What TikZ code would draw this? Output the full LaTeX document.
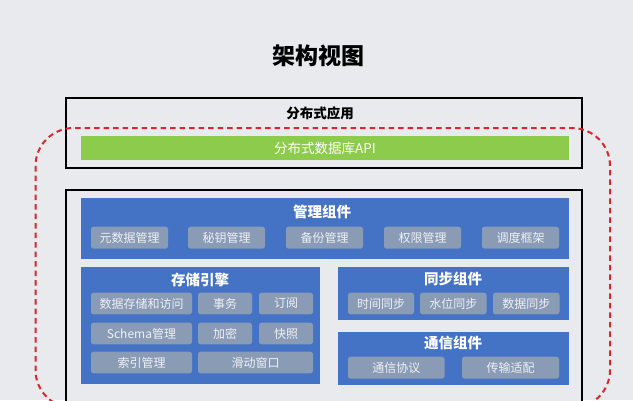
\documentclass[tikz,border=0pt]{standalone}
\usepackage{fontspec}
\setmainfont{Noto Sans CJK SC}
\definecolor{bgc}{HTML}{E8EAED}
\definecolor{bluec}{HTML}{4472C4}
\definecolor{itemc}{HTML}{8A9BB6}
\definecolor{itemtxt}{HTML}{EEF1F5}
\definecolor{greenc}{HTML}{8CCB4B}
\definecolor{redc}{HTML}{D7282E}
\tikzset{
  panel/.style={draw=black, line width=1.3pt, fill=bgc},
  bluebox/.style={fill=bluec, draw=none},
  item/.style={fill=itemc, draw=none, rounded corners=2.5pt, text=itemtxt, font=\fontsize{12}{13}\selectfont, inner sep=0pt},
  head/.style={text=white, font=\bfseries\fontsize{14.5}{15}\selectfont, inner sep=0pt},
}
\begin{document}
\begin{tikzpicture}[x=1pt,y=-1pt]
\useasboundingbox (0,0) rectangle (633,400);
\clip (0,0) rectangle (633,400);
\fill[bgc] (0,0) rectangle (633,400);
\node[font=\bfseries\fontsize{23}{25}\selectfont, inner sep=0pt] (title) at (318,56) {架构视图};
% top panel
\node[panel, minimum width=516pt, minimum height=70pt, inner sep=0pt] (app) at (324,133) {};
\node[font=\bfseries\fontsize{13.5}{14}\selectfont, inner sep=0pt] (apptitle) at (320,113) {分布式应用};
\node[fill=greenc, minimum width=488pt, minimum height=24pt, inner sep=0pt, text=white, font=\fontsize{13.5}{14}\selectfont] (api) at (325,148) {分布式数据库API};
% bottom panel
\node[panel, minimum width=516pt, minimum height=230pt, inner sep=0pt] (db) at (324,305) {};
% management
\node[bluebox, minimum width=488pt, minimum height=61pt, inner sep=0pt] (mgmt) at (325,228.5) {};
\node[head] (mgmtt) at (322,212) {管理组件};
\node[item, minimum width=77pt, minimum height=22pt] (m1) at (129.5,237.7) {元数据管理};
\node[item, minimum width=77pt, minimum height=22pt] (m2) at (226.5,237.7) {秘钥管理};
\node[item, minimum width=77pt, minimum height=22pt] (m3) at (324.5,237.7) {备份管理};
\node[item, minimum width=77pt, minimum height=22pt] (m4) at (422.5,237.7) {权限管理};
\node[item, minimum width=77pt, minimum height=22pt] (m5) at (520.5,237.7) {调度框架};
% storage engine
\node[bluebox, minimum width=239pt, minimum height=117pt, inner sep=0pt] (store) at (200.5,325.2) {};
\node[head] (storet) at (200,280) {存储引擎};
\node[item, minimum width=101pt, minimum height=21.6pt] (s1) at (141.5,303.5) {数据存储和访问};
\node[item, minimum width=54pt, minimum height=21.6pt] (s2) at (225,303.5) {事务};
\node[item, minimum width=54pt, minimum height=21.6pt] (s3) at (286,303.5) {订阅};
\node[item, minimum width=101pt, minimum height=21.6pt] (s4) at (141.5,333.5) {Schema管理};
\node[item, minimum width=54pt, minimum height=21.6pt] (s5) at (225,333.5) {加密};
\node[item, minimum width=54pt, minimum height=21.6pt] (s6) at (286,333.5) {快照};
\node[item, minimum width=101pt, minimum height=21.6pt] (s7) at (141.5,362.5) {索引管理};
\node[item, minimum width=115pt, minimum height=21.6pt] (s8) at (255.5,362.5) {滑动窗口};
% sync
\node[bluebox, minimum width=231.5pt, minimum height=53.3pt, inner sep=0pt] (sync) at (453.25,293.35) {};
\node[head] (synct) at (453,279) {同步组件};
\node[item, minimum width=66pt, minimum height=21.6pt] (y1) at (381,303.5) {时间同步};
\node[item, minimum width=66.5pt, minimum height=21.6pt] (y2) at (453.25,303.5) {水位同步};
\node[item, minimum width=66.5pt, minimum height=21.6pt] (y3) at (526.25,303.5) {数据同步};
% comm
\node[bluebox, minimum width=231.5pt, minimum height=52.7pt, inner sep=0pt] (comm) at (453.25,358.35) {};
\node[head] (commt) at (453,342.7) {通信组件};
\node[item, minimum width=96.5pt, minimum height=22pt] (c1) at (396.25,367.7) {通信协议};
\node[item, minimum width=97pt, minimum height=22pt] (c2) at (510.5,367.7) {传输适配};
% dashed boundary
\draw[redc, line width=2pt, dash pattern=on 5.5pt off 4pt, rounded corners=38pt] (35.5,128) rectangle (610,408);
\end{tikzpicture}
\end{document}
